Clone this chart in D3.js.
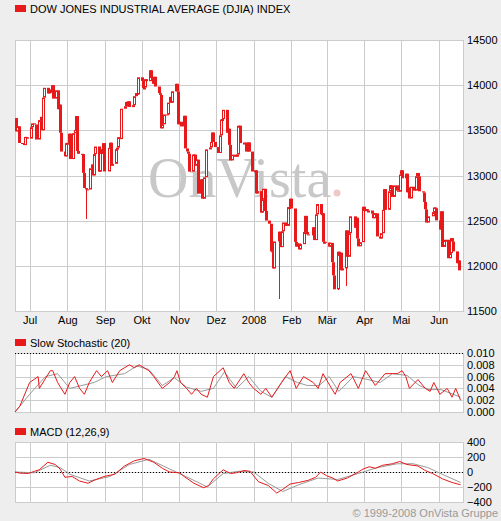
<!DOCTYPE html>
<html><head><meta charset="utf-8">
<script src="https://cdn.jsdelivr.net/npm/d3@7"></script>
<style>body{margin:0;background:#eeeeee}svg{display:block;font-family:"Liberation Sans",Arial,sans-serif}</style>
</head><body><svg id="chart" width="501" height="521"></svg>
<script>
// DJIA daily closes, trading days starting 2007-06-19 (weekends and holidays skipped)
const closes = [
13636,13489,13545,13360,13352,13337,13427,13422,13408,
13535,13577,13565,13398,13613,13649,13501,13862,13971,13908,13950,13918,14000,13851,13943,13734,13785,13473,13265,13212,13358,
13362,13463,13182,13468,13504,13658,13271,13240,13237,13029,12861,12846,12845,13080,13122,13001,13237,13321,13042,13290,13239,13358,
13045,13306,13363,13113,13129,13291,13308,13424,13403,13739,13767,13815,13766,13821,13759,13779,13878,13913,13896,
14087,14047,13968,13974,14066,14044,14165,14079,14015,14093,13985,13912,13892,13522,13567,13676,13675,13807,13870,13806,13932,14015,13930,
13567,13595,13543,13661,13300,13266,13240,13043,13232,13231,13110,13176,12799,12958,12743,12980,13289,13311,13371,13476,13371,
13315,13249,13445,13620,13625,13727,13473,13518,13339,13167,13231,13207,13232,13550,13551,13359,13365,13265,13366,13265,
13044,13057,12801,12827,12589,12736,12853,12607,12501,12466,12160,12159,11971,12270,12378,12207,12383,12480,12442,12650,12650,
12743,12635,12265,12213,12248,12182,12240,12374,12553,12376,12348,12337,12427,12285,12570,12684,12570,12582,12266,12266,
12258,12213,12254,12040,11894,11740,12156,12110,12145,11951,11972,12392,12100,12361,12548,12422,12532,12302,12216,12262,
12654,12608,12627,12610,12612,12577,12527,12582,12581,12325,12302,12362,12619,12849,12620,12825,12892,12848,12763,12891,12832,12820,
13010,13058,12969,13020,12814,12866,12746,12876,12832,12992,13028,12991,12825,12812,12707,12626,12479,12548,12595,12646,12638,
12503,12402,12604,12209,12280,12289,12084,12141,12307,12269,12160,12029,12060,11950];
const holidays = ["2007-07-04","2007-09-03","2007-11-22","2007-12-25","2008-01-01","2008-01-21","2008-02-18","2008-03-21","2008-05-26"];
// notable intraday lows (date, low)
const spikeDates = ["2007-08-16","2008-01-22","2008-03-10","2008-03-17"];
const spikeLows = [12518,11634,11730,11780];

// indicator readings: calendar day offset from 2007-06-19
const stochDays = [0,4,12,19,20,29,31,35,41,45,49,53,57,61,67,71,76,80,86,94,98,102,110,114,121,127,131,133,136,141,145,149,153,158,163,171,176,180,188,192,196,202,206,211,219,226,231,237,245,249,253,260,263,267,276,282,288,296,304,314,318,321,324,331,337,341,344,349,355,359,362,366];
const stochK = [0.000,0.001,0.005,0.006,0.004,0.007,0.007,0.005,0.003,0.005,0.006,0.004,0.003,0.005,0.007,0.006,0.007,0.005,0.007,0.008,0.0075,0.008,0.007,0.006,0.004,0.005,0.006,0.007,0.005,0.004,0.003,0.004,0.003,0.0025,0.006,0.0075,0.005,0.004,0.0065,0.005,0.004,0.003,0.004,0.0025,0.005,0.007,0.004,0.006,0.005,0.004,0.0065,0.004,0.003,0.005,0.0065,0.004,0.007,0.0045,0.0065,0.0065,0.007,0.006,0.004,0.0055,0.004,0.0035,0.005,0.003,0.004,0.0025,0.004,0.002];
const stochSigDays = [0,12,25,35,45,55,65,75,90,100,110,121,131,141,153,163,172,182,192,202,211,222,232,240,250,258,266,278,290,300,310,322,332,340,350,360,366];
const stochSig = [0.000,0.003,0.006,0.0065,0.004,0.0045,0.005,0.006,0.0065,0.0078,0.0072,0.0045,0.0058,0.0042,0.0035,0.004,0.0068,0.004,0.006,0.0035,0.0025,0.006,0.005,0.0045,0.0045,0.006,0.0035,0.006,0.0055,0.005,0.0065,0.0062,0.0045,0.0038,0.0038,0.003,0.0025];
const macdDays = [0,4,11,16,20,27,33,37,41,47,53,60,65,73,82,90,98,106,114,121,127,135,139,147,155,159,163,171,177,182,188,193,200,208,215,220,226,233,241,247,251,256,261,265,273,282,286,291,296,302,310,316,322,331,337,343,351,359,366];
const macdVals = [0,-15,-20,10,30,130,100,40,-70,-60,-120,-150,-110,-60,-30,80,150,180,130,50,0,-10,-60,-150,-210,-180,-90,30,-20,-10,20,10,-130,-180,-280,-230,-160,-140,-110,-70,0,-50,-80,-120,-80,0,40,70,50,90,110,140,100,80,20,-20,-90,-140,-170];
const sigDays = [0,16,29,37,45,61,78,94,110,127,143,158,171,184,196,208,220,233,249,265,282,298,314,327,339,351,366];
const sigVals = [0,-10,90,60,-30,-120,-60,100,170,40,-80,-200,-20,10,0,-150,-260,-170,-80,-100,-20,60,110,110,60,-30,-140];

const months = ["2007-07-01","2007-08-01","2007-09-01","2007-10-01","2007-11-01","2007-12-01","2008-01-01","2008-02-01","2008-03-01","2008-04-01","2008-05-01","2008-06-01"];
const monthLabels = ["Jul","Aug","Sep","Okt","Nov","Dez","2008","Feb","Mär","Apr","Mai","Jun"];
const priceTicks = [11500,12000,12500,13000,13500,14000,14500];
const stochTicks = [0,0.002,0.004,0.006,0.008,0.010];
const macdTicks = [-400,-200,0,200,400];

const parse = d3.timeParse("%Y-%m-%d");
const fmtDay = d3.timeFormat("%Y-%m-%d");
const start = parse("2007-06-19");
const dates = [];
for (let d = new Date(start); dates.length < closes.length; d = d3.timeDay.offset(d, 1)) {
  if (d.getDay() !== 0 && d.getDay() !== 6 && !holidays.includes(fmtDay(d))) dates.push(new Date(d));
}
const dayDate = n => d3.timeDay.offset(start, n);

const RED = "#e8191b", GRID = "#cccccc";
const svg = d3.select("#chart");
const x = d3.scaleTime().domain([parse("2007-06-19"), parse("2008-06-21")]).range([15, 463]);

function panel(y, ticks, fmt, dotted) {
  svg.append("rect").attr("x", 15).attr("y", y.range()[1]).attr("width", 448)
    .attr("height", y.range()[0] - y.range()[1]).attr("fill", "#fff");
  const g = svg.append("g").attr("stroke", GRID).attr("shape-rendering", "crispEdges");
  ticks.forEach(t => g.append("line").attr("x1", 15).attr("x2", 463).attr("y1", Math.round(y(t)) + 0.5).attr("y2", Math.round(y(t)) + 0.5));
  months.forEach(m => g.append("line").attr("x1", Math.round(x(parse(m))) + 0.5).attr("x2", Math.round(x(parse(m))) + 0.5).attr("y1", y.range()[1]).attr("y2", y.range()[0]));
  g.append("rect").attr("x", 15.5).attr("y", y.range()[1] + 0.5).attr("width", 448).attr("height", y.range()[0] - y.range()[1]).attr("fill", "none");
  if (dotted !== undefined) svg.append("line").attr("x1", 15).attr("x2", 463).attr("y1", Math.round(y(dotted)) + 0.5).attr("y2", Math.round(y(dotted)) + 0.5)
    .attr("stroke", "#000").attr("stroke-dasharray", "1,2").attr("shape-rendering", "crispEdges");
  const ax = svg.append("g").attr("transform", "translate(466,0)")
    .call(d3.axisRight(y).tickValues(ticks).tickFormat(fmt).tickSize(0).tickPadding(1));
  ax.select(".domain").remove();
  ax.selectAll("text").attr("font-size", 11).attr("fill", "#000").attr("font-family", "Liberation Sans, Arial");
}
function title(txt, yy) {
  svg.append("rect").attr("x", 15).attr("y", yy - 8).attr("width", 11).attr("height", 7).attr("fill", RED);
  svg.append("text").attr("x", 30).attr("y", yy).attr("font-size", 11).text(txt);
}

// main price panel
const yP = d3.scaleLinear().domain([11500, 14500]).range([311, 40]);
panel(yP, priceTicks, d3.format("d"));
title("DOW JONES INDUSTRIAL AVERAGE (DJIA) INDEX", 13);
svg.append("text").attr("x", 148).attr("y", 197).attr("font-family", "Liberation Serif, Times New Roman, serif")
  .attr("font-size", 56).attr("fill", "#c8c8c8").text("OnVista");
svg.append("circle").attr("cx", 337).attr("cy", 193).attr("r", 3.5).attr("fill", "#f0c8c8");
const xa = svg.append("g").attr("transform", "translate(0,312)")
  .call(d3.axisBottom(x).tickValues(months.map(parse)).tickFormat((d, i) => monthLabels[i]).tickSize(0).tickPadding(4));
xa.select(".domain").remove();
xa.selectAll("text").attr("font-size", 11).attr("fill", "#000");

const candles = svg.append("g");
spikeDates.forEach((s, i) => {
  const idx = dates.findIndex(d => +d === +parse(s));
  if (idx < 1) return;
  const xc = Math.round(x(dates[idx])) + 0.5;
  candles.append("line").attr("x1", xc).attr("x2", xc).attr("y1", yP(Math.min(closes[idx], closes[idx - 1]))).attr("y2", yP(spikeLows[i]))
    .attr("stroke", RED).attr("shape-rendering", "crispEdges");
});
closes.forEach((c, i) => {
  if (i === 0) return;
  const o = closes[i - 1];
  const xc = Math.round(x(dates[i]));
  const top = yP(Math.max(o, c)), bot = yP(Math.min(o, c));
  const up = c >= o;
  candles.append("rect").attr("x", xc - 1 + (up ? 0.5 : 0)).attr("y", top + (up ? 0.5 : 0))
    .attr("width", up ? 2 : 3).attr("height", Math.max(1, bot - top - (up ? 1 : 0)))
    .attr("fill", up ? "#fff" : RED).attr("stroke", up ? RED : "none").attr("stroke-width", 1);
});

// stochastic panel
const yS = d3.scaleLinear().domain([0, 0.010]).range([412, 353]);
title("Slow Stochastic (20)", 347);
panel(yS, stochTicks, d3.format(".3f"), 0.010);
const lineS = d3.line().x(d => x(dayDate(d[0]))).y(d => yS(d[1]));
svg.append("path").attr("d", lineS(stochSigDays.map((d, i) => [d, stochSig[i]]))).attr("fill", "none").attr("stroke", "#999");
svg.append("path").attr("d", lineS(stochDays.map((d, i) => [d, stochK[i]]))).attr("fill", "none").attr("stroke", RED);

// MACD panel
const yM = d3.scaleLinear().domain([-400, 400]).range([502, 442]);
title("MACD (12,26,9)", 436);
panel(yM, macdTicks, d3.format("d"), 0);
const lineM = d3.line().x(d => x(dayDate(d[0]))).y(d => yM(d[1]));
svg.append("path").attr("d", lineM(sigDays.map((d, i) => [d, sigVals[i]]))).attr("fill", "none").attr("stroke", "#999");
svg.append("path").attr("d", lineM(macdDays.map((d, i) => [d, macdVals[i]]))).attr("fill", "none").attr("stroke", RED);

svg.append("text").attr("x", 498).attr("y", 517).attr("text-anchor", "end").attr("font-size", 11).attr("fill", "#999").text("© 1999-2008 OnVista Gruppe");
</script></body></html>
